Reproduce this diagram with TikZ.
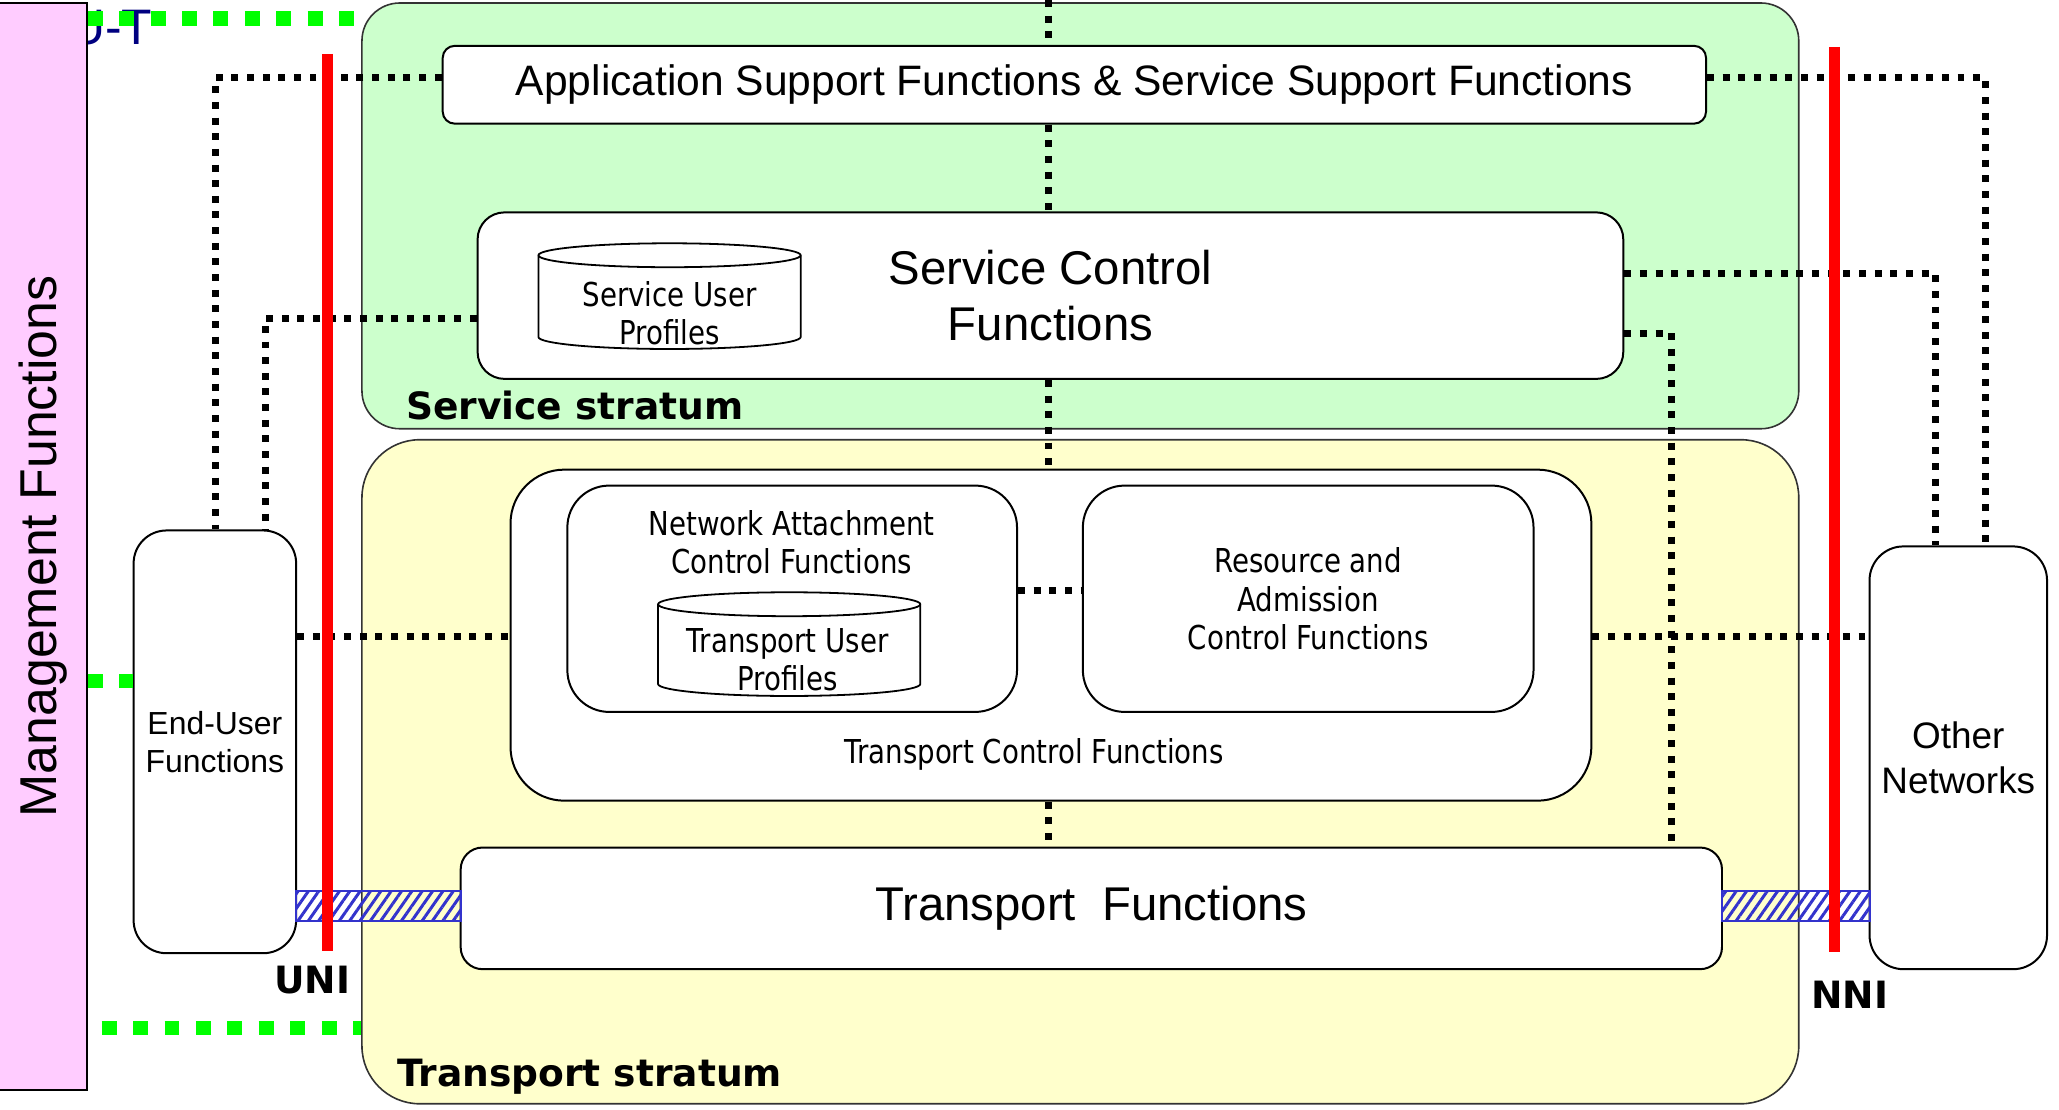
\documentclass[tikz,border=0pt]{standalone}
\usepackage{fontspec}
\setmainfont{Liberation Sans}
\newfontfamily\condf[FakeStretch=0.84]{DejaVu Sans}
\newfontfamily\verdf{DejaVu Sans}
\usetikzlibrary{patterns.meta}
\definecolor{pinkM}{HTML}{FFCCFF}
\definecolor{servG}{HTML}{CCFFCC}
\definecolor{transY}{HTML}{FFFFCC}
\definecolor{mgmtG}{HTML}{00FF00}
\definecolor{ifRed}{HTML}{FF0000}
\definecolor{hatchB}{HTML}{3333CC}
\definecolor{ituNavy}{HTML}{000080}
\begin{document}
\begin{tikzpicture}[x=1pt,y=-1pt,
  fbox/.style={draw=black, line width=2pt, fill=white, inner sep=0pt, align=center},
  stratum/.style={draw=black!80, line width=1.6pt, inner sep=0pt},
  dotline/.style={line width=7pt, dash pattern=on 7pt off 8.7pt, black},
  mgline/.style={line width=15pt, dash pattern=on 15pt off 16.5pt, mgmtG},
  redline/.style={line width=11pt, ifRed},
  hatchbar/.style={draw=hatchB, line width=2pt, inner sep=0pt, pattern={Lines[angle=55,distance=8.5pt,line width=3pt]}, pattern color=hatchB},
  condtext/.style={font=\condf\fontsize{33}{38.5}\selectfont, align=center, inner sep=0pt},
  cyl/.style={draw=black, line width=1.8pt},
  boldlabel/.style={font=\verdf\bfseries\fontsize{37.7}{44}\selectfont, inner sep=0pt},
]
\useasboundingbox (0,0) rectangle (2065,1113.2);
\fill[white] (0,0) rectangle (2065,1113.2);

% ITU-T text partly hidden by the management bar
\node[anchor=base east, text=ituNavy, font=\fontsize{50}{56}\selectfont, inner sep=0pt] (itu) at (153,45) {ITU-T};

% Management functions bar
\node[draw=black, line width=2pt, fill=pinkM, rotate=90, minimum width=1090pt, minimum height=88pt, inner sep=0pt, font=\fontsize{52}{60}\selectfont] (mgmt) at (43,548) {Management Functions};

% strata
\node[stratum, fill=servG, rounded corners=38pt, minimum width=1441pt, minimum height=427pt] (serv) at (1083.5,216.5) {};
\node[stratum, fill=transY, rounded corners=58pt, minimum width=1441pt, minimum height=666pt] (trans) at (1083.5,774) {};

% boxes
\node[fbox, rounded corners=12pt, minimum width=1267pt, minimum height=78pt, font=\fontsize{42.7}{50}\selectfont] (app) at (1077.5,85) {Application Support Functions \& Service Support Functions};
\node[fbox, rounded corners=27pt, minimum width=1149pt, minimum height=167pt, font=\fontsize{47.5}{56}\selectfont] (sc) at (1053.5,296.5) {Service Control\\Functions};
\node[fbox, rounded corners=54pt, minimum width=1084pt, minimum height=332pt] (tcf) at (1054,637) {};
\node[fbox, rounded corners=42pt, minimum width=451pt, minimum height=227pt] (nacf) at (794.5,600.5) {};
\node[fbox, rounded corners=42pt, minimum width=452pt, minimum height=227pt, condtext] (racf) at (1312,600.5) {Resource and\\Admission\\Control Functions};
\node[fbox, rounded corners=22pt, minimum width=1265pt, minimum height=122pt, font=\fontsize{47.5}{56}\selectfont] (tf) at (1094.5,911) {Transport\ \ Functions};
\node[fbox, rounded corners=33pt, minimum width=163pt, minimum height=424pt, font=\fontsize{32}{38}\selectfont] (eu) at (215.5,744) {End-User\\Functions};
\node[fbox, rounded corners=34pt, minimum width=178pt, minimum height=424pt, font=\fontsize{37}{45}\selectfont] (on) at (1964,760) {Other\\Networks};

% cylinders
\draw[cyl, fill=white] (540,256) -- (540,338) arc[start angle=180,end angle=360,x radius=131.5pt,y radius=12pt] -- (803,256) arc[start angle=0,end angle=180,x radius=131.5pt,y radius=12pt] -- cycle;
\draw[cyl] (540,256) arc[start angle=180,end angle=360,x radius=131.5pt,y radius=12pt];
\node[condtext] (sup) at (671.5,314) {Service User\\Profiles};
\draw[cyl, fill=white] (660,606) -- (660,686) arc[start angle=180,end angle=360,x radius=131.5pt,y radius=12pt] -- (923,606) arc[start angle=0,end angle=180,x radius=131.5pt,y radius=12pt] -- cycle;
\draw[cyl] (660,606) arc[start angle=180,end angle=360,x radius=131.5pt,y radius=12pt];
\node[condtext] (tup) at (790,661.5) {Transport User\\Profiles};

% inner labels
\node[condtext] (nacflbl) at (794,544) {Network Attachment\\Control Functions};
\node[condtext] (tcflbl) at (1037,757) {Transport Control Functions};

% management (green) links
\coordinate (mgTopEnd) at (355,19);
\draw[mgline] (mgmt.south |- mgTopEnd) -- (mgTopEnd);
\draw[mgline] (mgmt.south |- 0,683) -- (eu.west |- 0,683);
\draw[mgline, dash phase=17.5pt] (mgmt.south |- 0,1031) -- (trans.west |- 0,1031);

% dotted control links
\coordinate (ctop) at (1052,0);
\draw[dotline] (ctop) -- (app.north -| ctop);
\draw[dotline] (app.south -| ctop) -- (sc.north -| ctop);
\draw[dotline] (sc.south -| ctop) -- (tcf.north -| ctop);
\draw[dotline] (tcf.south -| ctop) -- (tf.north -| ctop);
\draw[dotline] (app.west |- 0,78) -| (eu.north -| 216,0);
\draw[dotline] (sc.west |- 0,319) -| (eu.north -| 266,0);
\draw[dotline] (eu.east |- 0,638) -- (tcf.west |- 0,638);
\draw[dotline] (app.east |- 0,78) -| (on.north -| 1991,0);
\draw[dotline] (sc.east |- 0,274) -| (on.north -| 1941,0);
\draw[dotline] (sc.east |- 0,334) -| (tf.north -| 1676,0);
\draw[dotline] (tcf.east |- 0,638) -- (on.west |- 0,638);
\draw[dotline] (nacf.east |- 0,592) -- (racf.west |- 0,592);

% transport (hatched) links
\node[hatchbar, minimum width=165pt, minimum height=30pt] (hatchL) at (379.5,909) {};
\node[hatchbar, minimum width=148pt, minimum height=30pt] (hatchR) at (1801,909) {};

% reference points UNI / NNI
\coordinate (uniT) at (328,54);
\coordinate (uniB) at (328,954);
\draw[redline] (uniT) -- (uniB);
\coordinate (nniT) at (1840,47);
\coordinate (nniB) at (1840,955);
\draw[redline] (nniT) -- (nniB);
\node[boldlabel] (uni) at (313,983) {UNI};
\node[boldlabel] (nni) at (1855,998) {NNI};

% strata labels
\node[boldlabel, anchor=base west] (servlbl) at (407,421) {Service stratum};
\node[boldlabel, anchor=base west] (translbl) at (398,1090) {Transport stratum};
\end{tikzpicture}
\end{document}
